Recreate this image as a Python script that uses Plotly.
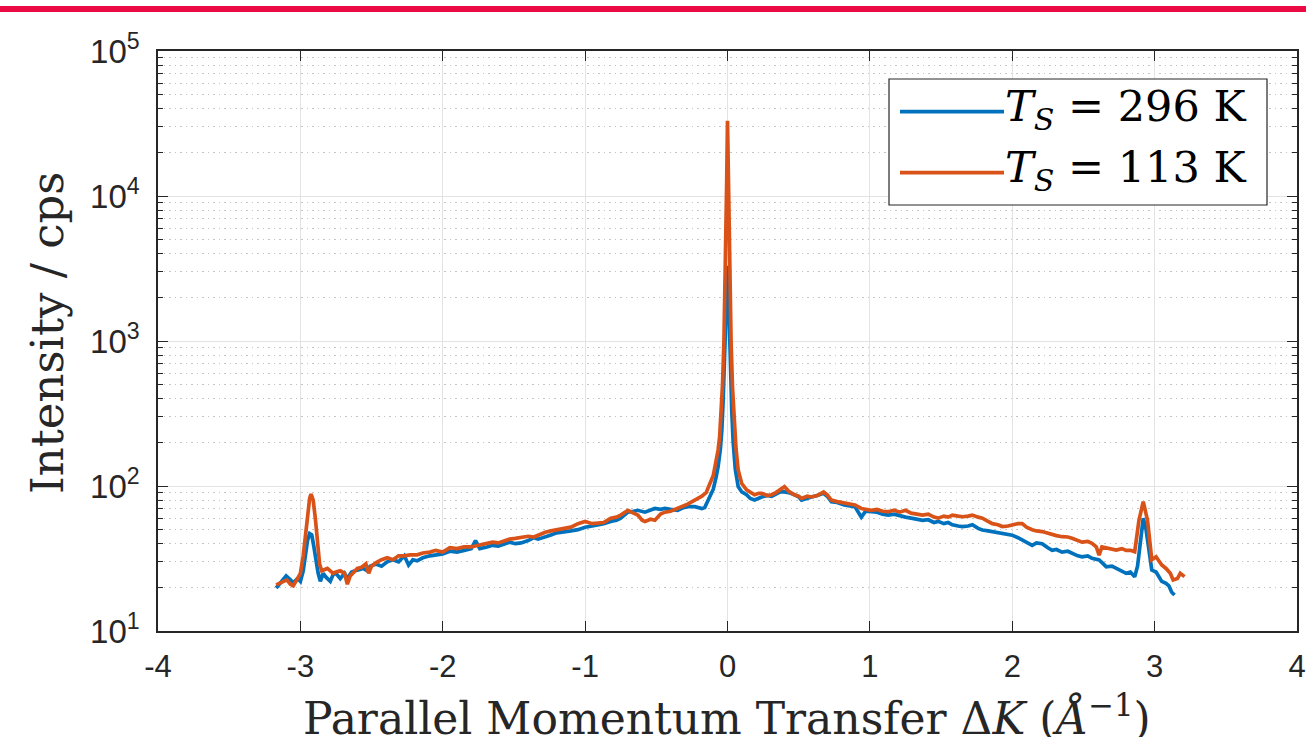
import plotly.graph_objects as go

# ---------------- data ----------------
dk_296 = [-3.17, -3.13, -3.10, -3.07, -3.05, -3.02, -3.00, -2.98, -2.965, -2.95, -2.935, -2.92, -2.905, -2.89,
          -2.875, -2.86, -2.84, -2.82, -2.79, -2.77, -2.75, -2.72, -2.69, -2.67, -2.64, -2.60, -2.56, -2.53,
          -2.51, -2.47, -2.43, -2.39, -2.35, -2.31, -2.27, -2.24, -2.21, -2.18, -2.14, -2.09, -2.05, -2.00,
          -1.95, -1.90, -1.85, -1.80, -1.77, -1.74, -1.69, -1.65, -1.61, -1.57, -1.53, -1.49, -1.45, -1.40,
          -1.36, -1.33, -1.28, -1.24, -1.20, -1.15, -1.10, -1.05, -1.00, -0.95, -0.90, -0.87, -0.82, -0.78,
          -0.75, -0.70, -0.66, -0.63, -0.58, -0.54, -0.51, -0.47, -0.44, -0.40, -0.35, -0.31, -0.28, -0.23,
          -0.18, -0.16, -0.135, -0.11, -0.10, -0.08, -0.066, -0.05, -0.04, -0.03, -0.02, -0.01, 0.0,
          0.01, 0.02, 0.03, 0.04, 0.055, 0.075, 0.10, 0.134, 0.16, 0.19, 0.22, 0.24, 0.28, 0.31, 0.34,
          0.37, 0.40, 0.43, 0.47, 0.50, 0.52, 0.56, 0.59, 0.63, 0.675, 0.70, 0.73, 0.77, 0.82, 0.86, 0.895,
          0.94, 0.97, 1.01, 1.05, 1.09, 1.13, 1.17, 1.21, 1.25, 1.29, 1.33, 1.37, 1.41, 1.45, 1.48, 1.52,
          1.55, 1.58, 1.62, 1.65, 1.69, 1.72, 1.76, 1.79, 1.83, 1.86, 1.90, 1.93, 1.97, 2.00, 2.04, 2.07,
          2.10, 2.14, 2.17, 2.21, 2.25, 2.28, 2.31, 2.35, 2.39, 2.42, 2.46, 2.49, 2.53, 2.56, 2.59, 2.61,
          2.64, 2.66, 2.70, 2.73, 2.77, 2.80, 2.83, 2.86, 2.88, 2.90, 2.92, 2.94, 2.96, 2.98, 3.01, 3.03,
          3.05, 3.08, 3.10, 3.12, 3.14]
cps_296 = [19.8, 22, 24, 22.5, 21.5, 23, 22, 26, 34, 42, 47, 46, 38, 30,
           25, 22, 25, 23.5, 22, 24.5, 25, 23, 25, 23, 25.5, 26.3, 27, 26,
           28, 29, 28, 30, 31, 30, 33, 28.5, 31, 30.5, 32, 33, 33.5, 34,
           35.5, 35, 36, 37, 42, 37, 38, 39, 38.5, 40, 41, 40, 40.5, 42,
           44, 43, 45, 46, 47.5, 48, 49, 50, 52, 53, 54, 55, 57, 58,
           60, 66, 67, 68, 66, 68, 70, 69, 70, 69, 68, 71, 72, 72,
           70, 71, 80, 88, 95, 115, 136, 180, 240, 400, 800, 1800, 3300,
           1700, 650, 330, 200, 130, 99, 91, 87, 82, 80, 83, 84, 86, 85, 88,
           91, 91, 90, 87, 84, 80, 83, 84, 86, 89, 85, 78, 77, 74, 73, 72,
           61, 67, 66.5, 66, 64, 63, 64, 62, 61, 60, 59, 58, 58.5, 56, 57, 55,
           56, 54, 53, 52.5, 53, 54, 51, 49.7, 49, 48.4, 47.5, 47, 46, 45.8, 44, 42.4,
           41, 39, 40.5, 40, 37.5, 36, 36.5, 35, 35.5, 34.3, 33, 32.5, 33, 31.7, 31, 30.9,
           29, 27.7, 28, 27.1, 26, 25, 25.5, 23.7, 28, 40, 60, 50, 36, 26.3, 25.5, 23.7,
           22, 21.3, 20.5, 18.5, 17.7]

dk_113 = [-3.17, -3.14, -3.11, -3.095, -3.07, -3.05, -3.02, -3.00, -2.98, -2.965, -2.95, -2.935, -2.925,
          -2.91, -2.895, -2.88, -2.865, -2.85, -2.83, -2.81, -2.79, -2.77, -2.75, -2.72, -2.69, -2.67,
          -2.65, -2.62, -2.60, -2.57, -2.54, -2.52, -2.50, -2.47, -2.43, -2.39, -2.35, -2.31, -2.27,
          -2.23, -2.18, -2.14, -2.09, -2.05, -2.00, -1.95, -1.90, -1.85, -1.80, -1.75, -1.69, -1.65,
          -1.61, -1.57, -1.53, -1.49, -1.45, -1.40, -1.36, -1.33, -1.28, -1.24, -1.20, -1.15, -1.10,
          -1.05, -1.00, -0.95, -0.90, -0.87, -0.82, -0.78, -0.75, -0.70, -0.66, -0.63, -0.60, -0.58,
          -0.54, -0.51, -0.47, -0.44, -0.40, -0.35, -0.31, -0.28, -0.23, -0.18, -0.15, -0.12, -0.10,
          -0.08, -0.066, -0.055, -0.045, -0.035, -0.025, -0.018, -0.012, -0.006, 0.0, 0.006, 0.012,
          0.018, 0.025, 0.035, 0.045, 0.06, 0.075, 0.10, 0.134, 0.16, 0.19, 0.22, 0.24, 0.28, 0.31,
          0.34, 0.37, 0.40, 0.43, 0.47, 0.50, 0.52, 0.56, 0.59, 0.63, 0.675, 0.70, 0.73, 0.77, 0.82,
          0.86, 0.895, 0.94, 0.97, 1.01, 1.05, 1.09, 1.13, 1.17, 1.21, 1.25, 1.29, 1.33, 1.37, 1.41,
          1.45, 1.48, 1.52, 1.55, 1.58, 1.62, 1.65, 1.69, 1.72, 1.76, 1.79, 1.83, 1.86, 1.90, 1.93,
          1.97, 2.00, 2.04, 2.07, 2.10, 2.14, 2.17, 2.21, 2.25, 2.28, 2.31, 2.35, 2.39, 2.42, 2.46,
          2.49, 2.53, 2.56, 2.59, 2.61, 2.63, 2.66, 2.70, 2.73, 2.77, 2.80, 2.83, 2.86, 2.89, 2.92,
          2.95, 2.98, 3.01, 3.03, 3.05, 3.08, 3.11, 3.13, 3.16, 3.18, 3.21]
cps_113 = [20.8, 21.5, 22, 22.5, 21, 20.5, 23, 25, 33, 44.5, 65, 82, 88,
           80, 60, 39, 29, 26, 26.5, 27, 26, 25, 25.5, 26, 25, 21,
           24, 26, 27, 27.5, 29, 25, 28, 29.5, 31, 32, 31, 33, 33,
           33.5, 33.5, 34.5, 35, 36, 35, 37.5, 37, 38, 38, 39, 40, 41,
           40.5, 42, 43, 43.5, 44, 45, 44.5, 46, 48, 49, 50, 51, 52,
           55, 57, 55, 56, 56, 60, 61, 63, 68, 65, 63, 58, 57,
           59, 58, 64, 66, 67, 70, 72, 75, 80, 85, 90, 105, 118,
           150, 177, 220, 300, 500, 1000, 2000, 4500, 12000, 33000, 12000, 4500,
           2000, 1000, 480, 290, 180, 129, 104, 94, 90, 87, 89, 89, 86, 87,
           90, 94, 99, 92, 87, 85, 82, 85, 84, 86, 91, 87, 80, 78, 76,
           75, 74, 70, 69, 68, 69, 67, 66.5, 68, 66, 68, 65, 64, 63, 64,
           61, 60, 62, 61, 63, 62, 61.4, 62, 63, 61, 60, 57, 55, 54, 52.5,
           53, 54, 55, 55, 52, 50, 49, 48.5, 47, 46, 45.5, 44.7, 44.5, 43.6, 42,
           41, 41.5, 40.3, 38, 33.4, 38, 37.3, 36.5, 36.2, 37, 36, 36, 35.2, 58, 78,
           58, 31, 32.5, 30, 28.5, 27, 25, 22.5, 23, 25, 23.7]

series_names = ["T_S = 296 K", "T_S = 113 K"]
legend_labels = ["<i>T</i><sub><i>S</i></sub> = 296 K", "<i>T</i><sub><i>S</i></sub> = 113 K"]
x_ticks = [-4, -3, -2, -1, 0, 1, 2, 3, 4]
x_tick_text = ["-4", "-3", "-2", "-1", "0", "1", "2", "3", "4"]
y_ticks = [1e1, 1e2, 1e3, 1e4, 1e5]
y_tick_text = ["10<sup>1</sup>", "10<sup>2</sup>", "10<sup>3</sup>", "10<sup>4</sup>", "10<sup>5</sup>"]
y_minor_ticks = [k * 10 ** d for d in range(1, 5) for k in range(2, 10)]

BLUE = "#0072BD"
ORANGE = "#D95319"
AXIS = "#262626"
SERIF = "DejaVu Serif"
SANS = "Liberation Sans, Arial, sans-serif"

W, H = 1306, 737
L, R, T, B = 158, 1297, 51, 631


def px_x(p):
    return (p - L) / (R - L)


def px_y(p):
    return (B - p) / (B - T)


fig = go.Figure()
fig.add_trace(go.Scatter(x=dk_296, y=cps_296, mode="lines", name=series_names[0],
                         line=dict(color=BLUE, width=3.7), showlegend=False))
fig.add_trace(go.Scatter(x=dk_113, y=cps_113, mode="lines", name=series_names[1],
                         line=dict(color=ORANGE, width=3.7), showlegend=False))

fig.update_layout(
    width=W, height=H,
    margin=dict(l=L, r=W - R, t=T, b=H - B, autoexpand=False),
    paper_bgcolor="white", plot_bgcolor="white",
    showlegend=False,
    font=dict(family=SANS, color=AXIS),
)

fig.update_xaxes(
    range=[-4, 4], tickmode="array", tickvals=x_ticks, ticktext=x_tick_text,
    showline=True, linecolor=AXIS, linewidth=1.5, mirror="ticks",
    ticks="inside", ticklen=10, tickwidth=1.2, tickcolor=AXIS,
    showgrid=True, gridcolor="#e3e3e3", gridwidth=1.2,
    zeroline=False, tickfont=dict(family=SANS, size=31, color=AXIS),
    ticklabelstandoff=7,
)
fig.update_yaxes(
    type="log", range=[1, 5], tickmode="array", tickvals=y_ticks, ticktext=y_tick_text,
    showline=True, linecolor=AXIS, linewidth=1.5, mirror="ticks",
    ticks="inside", ticklen=10, tickwidth=1.2, tickcolor=AXIS,
    showgrid=True, gridcolor="#e3e3e3", gridwidth=1.2,
    zeroline=False, tickfont=dict(family=SANS, size=33, color=AXIS),
    ticklabelstandoff=10,
    minor=dict(tickmode="array", tickvals=y_minor_ticks, ticks="inside", ticklen=5,
               tickcolor=AXIS, showgrid=True, gridcolor="#c4c4c4",
               griddash="1.5px,4px", gridwidth=1.2),
)

shapes = []
# red rule across the top of the page
shapes.append(dict(type="rect", xref="paper", yref="paper",
                   x0=px_x(0), x1=px_x(W), y0=px_y(12), y1=px_y(6),
                   fillcolor="#EC0A45", line=dict(width=0), layer="above"))
# legend box
shapes.append(dict(type="rect", xref="paper", yref="paper",
                   x0=px_x(889), x1=px_x(1267), y0=px_y(205), y1=px_y(79),
                   fillcolor="white", line=dict(color=AXIS, width=1.2), layer="above"))
leg_y = [111.7, 172.7]
for yy, col in zip(leg_y, [BLUE, ORANGE]):
    shapes.append(dict(type="line", xref="paper", yref="paper",
                       x0=px_x(900), x1=px_x(1004), y0=px_y(yy), y1=px_y(yy),
                       line=dict(color=col, width=3.7), layer="above"))
fig.update_layout(shapes=shapes)

annotations = []
for yy, lab in zip(leg_y, legend_labels):
    annotations.append(dict(xref="paper", yref="paper", x=px_x(1003), y=px_y(yy - 3),
                            text=lab, showarrow=False, xanchor="left", yanchor="middle",
                            font=dict(family=SERIF, size=43, color="black")))
annotations.append(dict(xref="paper", yref="paper", x=px_x(47), y=px_y(333),
                        text="Intensity / cps", textangle=-90, showarrow=False,
                        xanchor="center", yanchor="middle",
                        font=dict(family=SERIF, size=45, color=AXIS)))
annotations.append(dict(xref="paper", yref="paper", x=px_x(727), y=px_y(715),
                        text="Parallel Momentum Transfer Δ<i>K</i> (<i>Å</i><sup>−1</sup>)",
                        showarrow=False, xanchor="center", yanchor="middle",
                        font=dict(family=SERIF, size=44, color=AXIS)))
fig.update_layout(annotations=annotations)

fig.write_html("out.html", config={"displayModeBar": False},
               post_script="document.body.style.margin='0';document.body.style.padding='0';")
